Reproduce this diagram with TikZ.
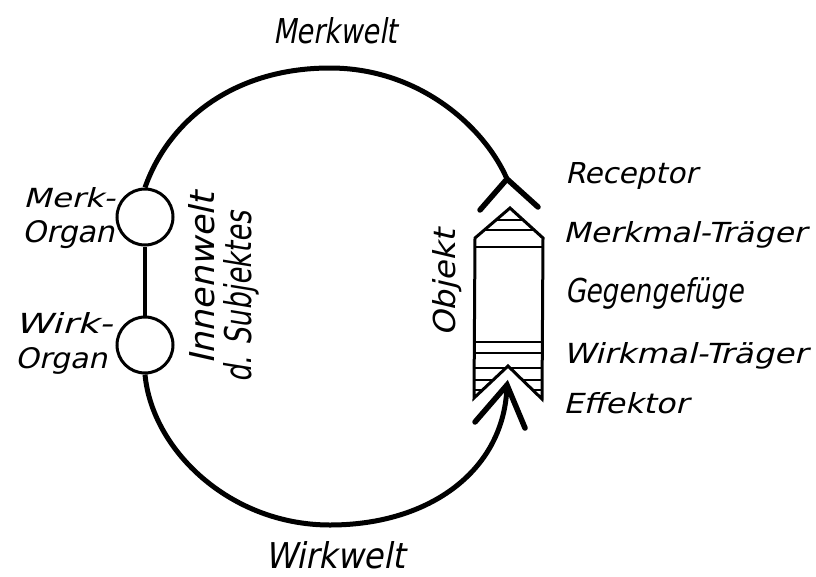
\documentclass[tikz,border=0pt]{standalone}
\usepackage{fontspec}
\newfontfamily\hand{DejaVu Sans}[FakeSlant=0.22]
\newcommand{\fitlbl}[3]{\resizebox{#1pt}{#2pt}{\hand #3}}
\begin{document}
\begin{tikzpicture}[x=1pt,y=-1pt,
  loopline/.style={line width=5pt},
  tipline/.style={line width=5.5pt,line cap=round},
  organ/.style={circle,draw,line width=3pt,minimum size=56pt,inner sep=0pt,fill=white},
  objline/.style={line width=3pt,line join=miter},
  stripe/.style={line width=1.8pt},
  lbl/.style={inner sep=0pt,anchor=base west}]
\useasboundingbox (0,0) rectangle (816,576);
% organs
\node[organ] (merk) at (145,217) {};
\node[organ] (wirk) at (145,345) {};
\draw[line width=3.5pt] (merk.south) -- (wirk.north);
% receptor and effector points
\coordinate (rec) at (507,179);
\coordinate (recL) at (480,210);
\coordinate (recR) at (538,207);
\coordinate (eff) at (507,385);
\coordinate (effL) at (475,422);
\coordinate (effR) at (525,428);
\coordinate (topm) at (330,68);
\coordinate (botm) at (330,525);
% loop
\draw[loopline] (merk.north) .. controls (168,122) and (232,68) .. (topm)
   .. controls (420,68) and (485,128) .. (rec);
\draw[loopline] (wirk.south) .. controls (152,450) and (230,525) .. (botm)
   .. controls (430,525) and (505,470) .. (eff);
\draw[tipline] (recL) -- (rec) -- (recR);
\draw[tipline] (effL) -- (eff) -- (effR);
% object
\begin{scope}
\clip (475,238) -- (510,208) -- (543,238) -- (542,399) -- (508,366) -- (474,398) -- cycle;
\foreach \yy in {220,230,247,342,353,368,380,390}
  \draw[stripe] (460,\yy) -- (560,\yy);
\end{scope}
\draw[objline] (475,238) -- (510,208) -- (543,238) -- (542,399) -- (508,366) -- (474,398) -- cycle;
% labels
\node[lbl] (merkwelt) at (273,43) {\fitlbl{124}{26}{Merkwelt}};
\node[lbl] (wirkwelt) at (265,568) {\fitlbl{140}{27}{Wirkwelt}};
\node[lbl] (receptor) at (565,183) {\fitlbl{132}{21}{Receptor}};
\node[lbl] (mtraeger) at (563,242) {\fitlbl{243}{21}{Merkmal-Träger}};
\node[lbl] (gegen) at (565,302) {\fitlbl{178}{25}{Gegengefüge}};
\node[lbl] (wtraeger) at (563,363) {\fitlbl{244}{21}{Wirkmal-Träger}};
\node[lbl] (effektor) at (563,413) {\fitlbl{125}{21}{Effektor}};
\node[lbl] (merk1) at (23,207) {\fitlbl{92}{20}{Merk-}};
\node[lbl] (merk2) at (22,242) {\fitlbl{93}{22}{Organ}};
\node[lbl] (wirk1) at (15,333) {\fitlbl{97}{21}{Wirk-}};
\node[lbl] (wirk2) at (15,368) {\fitlbl{92}{21}{Organ}};
\node[lbl,rotate=90] (innen) at (214,365) {\fitlbl{172}{26}{Innenwelt}};
\node[lbl,rotate=90] (subj) at (251,383) {\fitlbl{171}{28}{d. Subjektes}};
\node[lbl,rotate=90] (objekt) at (455,337) {\fitlbl{107}{23}{Objekt}};
\end{tikzpicture}
\end{document}
